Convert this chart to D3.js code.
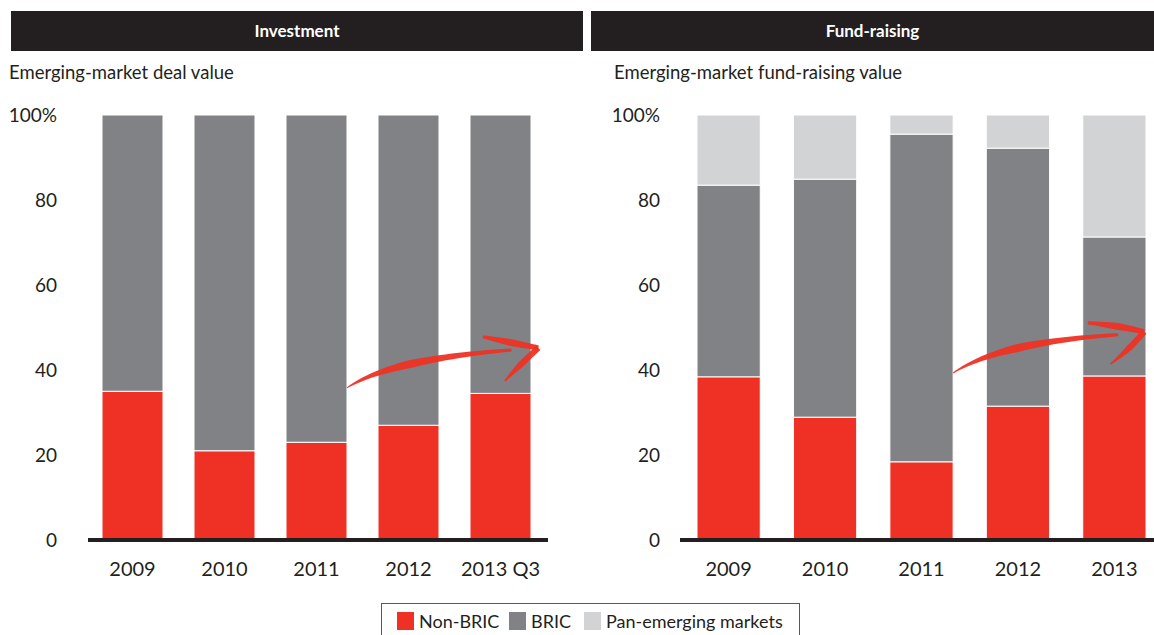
<!DOCTYPE html>
<html>
<head>
<meta charset="utf-8">
<style>
  html, body { margin: 0; padding: 0; background: #fff; }
  svg { display: block; font-family: "Lato", "Open Sans", sans-serif; }
</style>
</head>
<body>
<div id="container"></div>
<script src="https://cdn.jsdelivr.net/npm/d3@7"></script>
<script>
// Data
const series = ["Non-BRIC", "BRIC", "Pan-emerging markets"];
const colors = ["#ee3124", "#808285", "#d1d3d4"];

const invYears = ["2009", "2010", "2011", "2012", "2013 Q3"];
const invNonBric = [35, 21, 23, 27, 34.5];
const invBric = [65, 79, 77, 73, 65.5];
const invPan = [0, 0, 0, 0, 0];

const fundYears = ["2009", "2010", "2011", "2012", "2013"];
const fundNonBric = [38.4, 28.9, 18.4, 31.5, 38.6];
const fundBric = [45.1, 56.0, 77.1, 60.7, 32.7];
const fundPan = [16.5, 15.1, 4.5, 7.8, 28.7];

const yTicks = [0, 20, 40, 60, 80, 100];

const svg = d3.select("#container")
    .append("svg")
    .attr("width", 1154)
    .attr("height", 635);

const y = d3.scaleLinear().domain([0, 100]).range([540, 115]);

// tapered brush stroke along a quadratic curve
function brush(g, p0, c, p1, w0, wm, w1) {
    const n = 30, top = [], bot = [];
    for (let i = 0; i <= n; i++) {
        const t = i / n;
        const px = (1 - t) * (1 - t) * p0[0] + 2 * (1 - t) * t * c[0] + t * t * p1[0];
        const py = (1 - t) * (1 - t) * p0[1] + 2 * (1 - t) * t * c[1] + t * t * p1[1];
        const dx = 2 * (1 - t) * (c[0] - p0[0]) + 2 * t * (p1[0] - c[0]);
        const dy = 2 * (1 - t) * (c[1] - p0[1]) + 2 * t * (p1[1] - c[1]);
        const len = Math.hypot(dx, dy) || 1;
        const w = t < 0.5 ? w0 + (wm - w0) * t * 2 : wm + (w1 - wm) * (t - 0.5) * 2;
        top.push([px - dy / len * w / 2, py + dx / len * w / 2]);
        bot.push([px + dy / len * w / 2, py - dx / len * w / 2]);
    }
    g.append("path")
        .attr("d", d3.line()(top.concat(bot.reverse())) + "Z")
        .attr("fill", "#ee3124")
        .attr("opacity", 0.95);
}

function panel(opts) {
    const g = svg.append("g");
    const data = opts.years.map((yr, i) => ({
        year: yr, "Non-BRIC": opts.a[i], "BRIC": opts.b[i], "Pan-emerging markets": opts.c[i]
    }));
    const stack = d3.stack().keys(series)(data);

    const x = d3.scaleBand()
        .domain(opts.years)
        .range(opts.range)
        .paddingInner(opts.pad)
        .paddingOuter(0);

    // header
    g.append("rect")
        .attr("x", opts.hx0).attr("y", 11)
        .attr("width", opts.hx1 - opts.hx0).attr("height", 40)
        .attr("fill", "#231f20");
    g.append("text")
        .attr("x", (opts.hx0 + opts.hx1) / 2).attr("y", 37)
        .attr("text-anchor", "middle")
        .attr("fill", "#fff")
        .attr("font-weight", "bold")
        .attr("font-size", 17)
        .text(opts.title);
    g.append("text")
        .attr("x", opts.subX).attr("y", 79)
        .attr("fill", "#231f20")
        .attr("font-size", 18.5)
        .text(opts.subtitle);

    // bars
    g.selectAll("g.layer")
        .data(stack)
        .join("g")
        .attr("class", "layer")
        .attr("fill", (d, i) => colors[i])
        .selectAll("rect")
        .data(d => d)
        .join("rect")
        .attr("x", d => x(d.data.year))
        .attr("width", x.bandwidth())
        .attr("y", d => y(d[1]))
        .attr("height", d => y(d[0]) - y(d[1]))
        .attr("stroke", "#fff")
        .attr("stroke-width", d => d[1] - d[0] > 0 ? 1 : 0);

    // y tick labels
    g.selectAll("text.ytick")
        .data(yTicks)
        .join("text")
        .attr("class", "ytick")
        .attr("x", opts.labelX)
        .attr("y", d => y(d))
        .attr("dy", "0.35em")
        .attr("text-anchor", "end")
        .attr("fill", "#231f20")
        .attr("font-size", 19)
        .text(d => d === 100 ? "100%" : d);

    // baseline
    g.append("line")
        .attr("x1", opts.range[0] - opts.lineL).attr("x2", opts.range[1] + opts.lineR)
        .attr("y1", y(0)).attr("y2", y(0))
        .attr("stroke", "#231f20")
        .attr("stroke-width", 4);

    // x labels
    g.selectAll("text.xlab")
        .data(opts.years)
        .join("text")
        .attr("class", "xlab")
        .attr("x", d => x(d) + x.bandwidth() / 2)
        .attr("y", 576)
        .attr("text-anchor", "middle")
        .attr("fill", "#231f20")
        .attr("font-size", 20)
        .text(d => d);

    // hand-drawn arrow
    const ar = opts.arrow;
    const px = v => x(opts.years[v[0]]) + v[1] * x.bandwidth();
    const pt = v => [px(v), y(v[2])];
    brush(g, pt(ar.tail), pt(ar.ctrl), pt(ar.end), 1, 8, 3);
    brush(g, pt(ar.headA), pt(ar.headAc), pt(ar.tip), 3, 7, 5);
    brush(g, pt(ar.tip), pt(ar.headBc), pt(ar.headB), 6, 6, 1.5);
}

panel({
    title: "Investment",
    subtitle: "Emerging-market deal value",
    years: invYears, a: invNonBric, b: invBric, c: invPan,
    range: [102, 531], pad: 0.337,
    hx0: 11, hx1: 583, subX: 9, labelX: 57, lineL: 14, lineR: 17,
    arrow: {
        tail: [2, 1.0, 35.8], ctrl: [3, 0.2, 42.5], end: [4, 0.68, 44.7],
        headA: [4, 0.21, 47.8], headAc: [4, 0.65, 46.5], tip: [4, 1.12, 45.2],
        headBc: [4, 0.8, 41], headB: [4, 0.57, 37.4]
    }
});

panel({
    title: "Fund-raising",
    subtitle: "Emerging-market fund-raising value",
    years: fundYears, a: fundNonBric, b: fundBric, c: fundPan,
    range: [697, 1146], pad: 0.344,
    hx0: 591, hx1: 1154, subX: 614, labelX: 660, lineL: 17, lineR: 8,
    arrow: {
        tail: [2, 1.0, 39.3], ctrl: [3, 0.2, 46.5], end: [4, 0.56, 48.3],
        headA: [4, 0.08, 51.1], headAc: [4, 0.55, 50.5], tip: [4, 0.97, 49.0],
        headBc: [4, 0.75, 45], headB: [4, 0.44, 41.4]
    }
});

// legend
const legend = svg.append("g");
legend.append("rect")
    .attr("x", 381.5).attr("y", 603.5)
    .attr("width", 418).attr("height", 40)
    .attr("fill", "#fff")
    .attr("stroke", "#58595b")
    .attr("stroke-width", 1);
const legX = [397, 509, 584];
series.forEach((s, i) => {
    legend.append("rect")
        .attr("x", legX[i]).attr("y", 612)
        .attr("width", 17).attr("height", 18)
        .attr("fill", colors[i]);
    legend.append("text")
        .attr("x", legX[i] + 22).attr("y", 628)
        .attr("fill", "#231f20")
        .attr("font-size", 18)
        .text(s);
});
</script>
</body>
</html>
